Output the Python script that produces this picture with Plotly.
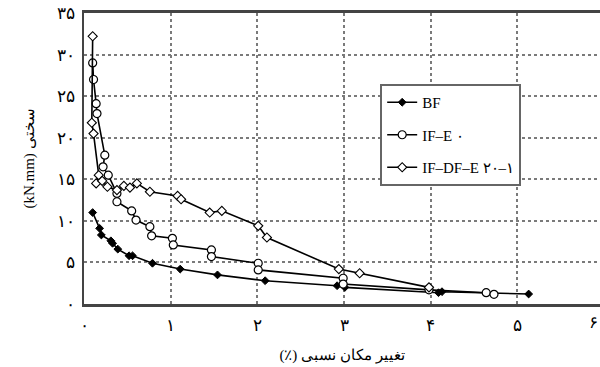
import plotly.graph_objects as go

# ---- data ----
bf_x = [0.10, 0.18, 0.20, 0.31, 0.33, 0.39, 0.52, 0.56, 0.79, 1.11, 1.54, 2.09, 2.92, 3.01, 4.09, 4.13, 5.13]
bf_y = [11.0, 9.1, 8.3, 7.6, 7.3, 6.6, 5.8, 5.8, 4.9, 4.2, 3.5, 2.8, 2.2, 2.0, 1.36, 1.48, 1.2]

ife_x = [0.10, 0.11, 0.14, 0.15, 0.24, 0.22, 0.28, 0.38, 0.38, 0.55, 0.60, 0.76, 0.78, 1.02, 1.03,
         1.47, 1.47, 2.01, 2.01, 2.99, 2.99, 3.98, 4.64, 4.73]
ife_y = [29.0, 27.0, 24.1, 22.9, 17.9, 16.5, 15.5, 13.3, 12.3, 11.2, 10.1, 9.3, 8.2, 7.9, 7.1,
         6.5, 5.7, 4.9, 4.1, 3.1, 2.4, 1.7, 1.36, 1.16]

ifdf_x = [0.10, 0.09, 0.11, 0.17, 0.14, 0.21, 0.27, 0.38, 0.46, 0.53, 0.61, 0.76, 1.08, 1.12,
          1.45, 1.59, 2.01, 2.11, 2.94, 3.18, 3.98]
ifdf_y = [32.2, 21.8, 20.5, 15.5, 14.5, 14.8, 14.1, 13.7, 14.2, 14.0, 14.5, 13.5, 13.0, 12.6,
          11.0, 11.2, 9.4, 8.0, 4.2, 3.7, 2.0]

series_names = ["BF", "IF–E ۰", "IF–DF–E ۲۰–۱"]
x_tickvals = [0, 1, 2, 3, 4, 5]
x_ticktext = ["۰", "۱", "۲", "۳", "۴", "۵"]
y_tickvals = [0, 5, 10, 15, 20, 25, 30, 35]
y_ticktext = ["۰", "۵", "۱۰", "۱۵", "۲۰", "۲۵", "۳۰", "۳۵"]
x_title = "تغییر مکان نسبی (٪)\u200f"
y_title = "(kN.mm) سختی"

FONT = "Liberation Serif, DejaVu Serif, serif"

fig = go.Figure()
fig.add_trace(go.Scatter(
    x=bf_x, y=bf_y, name=series_names[0], mode="lines+markers", legendgroup="a",
    line=dict(color="black", width=1.6),
    marker=dict(symbol="diamond", size=6, color="black", line=dict(color="black", width=1)),
))
fig.add_trace(go.Scatter(
    x=ife_x, y=ife_y, name=series_names[1], mode="lines+markers", legendgroup="b",
    line=dict(color="black", width=1.6),
    marker=dict(symbol="circle", size=8, color="white", line=dict(color="black", width=1.2)),
))
fig.add_trace(go.Scatter(
    x=ifdf_x, y=ifdf_y, name=series_names[2], mode="lines+markers", legendgroup="c",
    line=dict(color="black", width=1.6),
    marker=dict(symbol="diamond", size=7, color="white", line=dict(color="black", width=1.1)),
))

fig.update_layout(
    width=600, height=367,
    margin=dict(l=84, r=0, t=13, b=63),
    paper_bgcolor="white", plot_bgcolor="white",
    font=dict(family=FONT, size=15, color="black"),
    showlegend=True,
    legend=dict(
        x=0.574, y=0.756, xanchor="left", yanchor="top",
        bgcolor="white", bordercolor="#666", borderwidth=2,
        font=dict(family=FONT, size=15, color="black"),
        tracegroupgap=10,
    ),
    xaxis=dict(
        range=[0, 5.953], tickmode="array", tickvals=x_tickvals, ticktext=x_ticktext,
        showgrid=True, gridcolor="#7a7a7a", gridwidth=1.5, griddash="3px,3px",
        showline=True, linecolor="#444", linewidth=2.5, mirror=True,
        ticks="outside", ticklen=4, tickcolor="rgba(0,0,0,0)", zeroline=False,
        tickfont=dict(size=17),
        title=dict(text=x_title, standoff=16, font=dict(size=15)),
    ),
    yaxis=dict(
        range=[0, 35], tickmode="array", tickvals=y_tickvals, ticktext=y_ticktext,
        showgrid=True, gridcolor="#7a7a7a", gridwidth=1.5, griddash="3px,3px",
        showline=True, linecolor="#444", linewidth=2, mirror=False,
        ticks="outside", ticklen=4, tickcolor="rgba(0,0,0,0)", zeroline=False,
        tickfont=dict(size=17),
        title=dict(text=y_title, standoff=18, font=dict(size=15)),
    ),
    annotations=[dict(
        text="۶", xref="paper", yref="paper", x=1.0, xanchor="right", y=0, yanchor="top", yshift=-7,
        showarrow=False, font=dict(family=FONT, size=17),
    )],
)

fig.write_html("out.html")
